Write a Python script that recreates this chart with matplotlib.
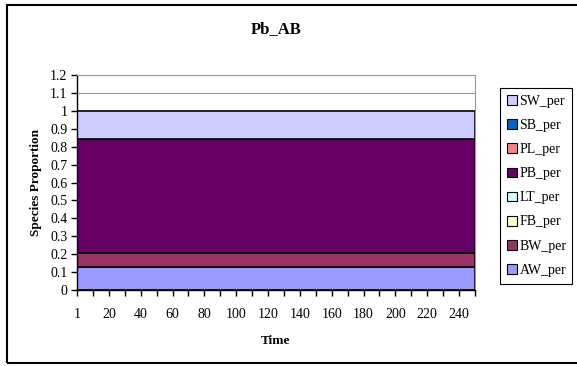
import matplotlib
matplotlib.use("Agg")
import matplotlib.pyplot as plt
from matplotlib.patches import Rectangle, Patch

plt.rcParams['font.family'] = ['Liberation Serif', 'DejaVu Serif']

# time categories (evenly spaced category axis, like the original spreadsheet)
times = [1, 10, 20, 30, 40, 50, 60, 70, 80, 90, 100, 110, 120, 130,
         140, 150, 160, 170, 180, 190, 200, 210, 220, 230, 240, 250]
n = len(times)

# species proportions (flat over the whole run)
aw_per = [0.127] * n
bw_per = [0.082] * n
fb_per = [0.0] * n
lt_per = [0.0] * n
pb_per = [0.633] * n
pl_per = [0.0] * n
sb_per = [0.0] * n
sw_per = [0.158] * n

names = ['AW_per', 'BW_per', 'FB_per', 'LT_per', 'PB_per', 'PL_per', 'SB_per', 'SW_per']
colors = ['#9999FF', '#993366', '#FFFFCC', '#CCFFFF', '#660066', '#FF8080', '#0066CC', '#CCCCFF']
series = [aw_per, bw_per, fb_per, lt_per, pb_per, pl_per, sb_per, sw_per]

W, H = 577, 366
fig = plt.figure(figsize=(W / 100, H / 100), dpi=100)
ax = fig.add_axes([77 / W, (H - 290) / H, 398 / W, 215 / H])

x = list(range(n))
ax.stackplot(x, *series, colors=colors, edgecolor='black', linewidth=1.2, zorder=2)

ax.set_xlim(0, n - 1)
ax.set_ylim(0, 1.2)
ax.set_yticks([i / 10 for i in range(13)])
ax.set_yticklabels(['0', '0.1', '0.2', '0.3', '0.4', '0.5', '0.6', '0.7', '0.8', '0.9',
                    '1', '1.1', '1.2'])
ax.set_xticks(x)
ax.set_xticklabels([str(t) if i % 2 == 0 else '' for i, t in enumerate(times)])
ax.yaxis.grid(True, color='#999999', linewidth=0.8, zorder=0)
ax.set_axisbelow(True)

ax.tick_params(axis='both', direction='out', length=4, width=1, labelsize=10, color='black')
ax.tick_params(axis='x', pad=9)
ax.tick_params(axis='y', pad=3)
for s in ['top', 'right']:
    ax.spines[s].set_color('#999999')
    ax.spines[s].set_linewidth(0.8)
for s in ['left', 'bottom']:
    ax.spines[s].set_color('black')
    ax.spines[s].set_linewidth(1)

ax.set_ylabel('Species Proportion', fontsize=9.5, fontweight='bold', labelpad=6)
ax.set_xlabel('Time', fontsize=9.5, fontweight='bold', labelpad=10)
fig.text(276 / W, 1 - 29 / H, 'Pb_AB', ha='center', va='center',
         fontsize=12, fontweight='bold')

handles = [Patch(facecolor=c, edgecolor='black', linewidth=0.8) for c in colors][::-1]
leg = fig.legend(handles, names[::-1], loc='upper left',
                 bbox_to_anchor=(500 / W, 1 - 278 / H, 72 / W, 190 / H),
                 mode='expand', fancybox=False, edgecolor='black', framealpha=1,
                 fontsize=10, handlelength=0.7, handleheight=0.7, handletextpad=0.2,
                 labelspacing=0.8, borderpad=0.5, borderaxespad=0)
leg.get_frame().set_linewidth(0.8)

# outer chart border
fig.patches.append(Rectangle((7 / W, 3 / H), 1, 1 - 8 / H, transform=fig.transFigure,
                             fill=False, edgecolor='black', linewidth=1.5))

fig.savefig('out.png', dpi=100)
